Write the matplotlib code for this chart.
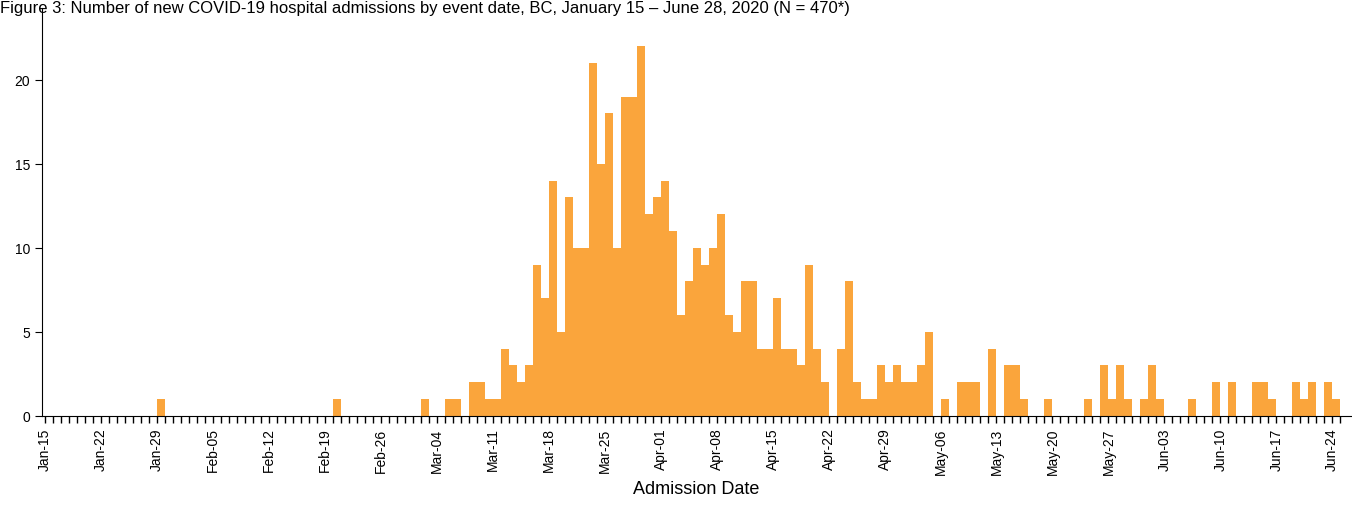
import matplotlib
matplotlib.use("Agg")
import matplotlib.pyplot as plt
import numpy as np
import pandas as pd

plt.rcParams["font.family"] = ["Liberation Sans", "DejaVu Sans"]

start_date = "2020-01-15"
end_date = "2020-06-25"
# non-zero daily admissions (date -> count); all other days are 0
counts = {
    "2020-01-29": 1, "2020-02-20": 1,
    "2020-03-02": 1, "2020-03-05": 1, "2020-03-06": 1, "2020-03-08": 2, "2020-03-09": 2,
    "2020-03-10": 1, "2020-03-11": 1, "2020-03-12": 4, "2020-03-13": 3, "2020-03-14": 2,
    "2020-03-15": 3, "2020-03-16": 9, "2020-03-17": 7, "2020-03-18": 14, "2020-03-19": 5,
    "2020-03-20": 13, "2020-03-21": 10, "2020-03-22": 10, "2020-03-23": 21, "2020-03-24": 15,
    "2020-03-25": 18, "2020-03-26": 10, "2020-03-27": 19, "2020-03-28": 19, "2020-03-29": 22,
    "2020-03-30": 12, "2020-03-31": 13, "2020-04-01": 14, "2020-04-02": 11, "2020-04-03": 6,
    "2020-04-04": 8, "2020-04-05": 10, "2020-04-06": 9, "2020-04-07": 10, "2020-04-08": 12,
    "2020-04-09": 6, "2020-04-10": 5, "2020-04-11": 8, "2020-04-12": 8, "2020-04-13": 4,
    "2020-04-14": 4, "2020-04-15": 7, "2020-04-16": 4, "2020-04-17": 4, "2020-04-18": 3,
    "2020-04-19": 9, "2020-04-20": 4, "2020-04-21": 2, "2020-04-23": 4, "2020-04-24": 8,
    "2020-04-25": 2, "2020-04-26": 1, "2020-04-27": 1, "2020-04-28": 3, "2020-04-29": 2,
    "2020-04-30": 3, "2020-05-01": 2, "2020-05-02": 2, "2020-05-03": 3, "2020-05-04": 5,
    "2020-05-06": 1, "2020-05-08": 2, "2020-05-09": 2, "2020-05-10": 2, "2020-05-12": 4,
    "2020-05-14": 3, "2020-05-15": 3, "2020-05-16": 1, "2020-05-19": 1, "2020-05-24": 1,
    "2020-05-26": 3, "2020-05-27": 1, "2020-05-28": 3, "2020-05-29": 1, "2020-05-31": 1,
    "2020-06-01": 3, "2020-06-02": 1, "2020-06-06": 1, "2020-06-09": 2, "2020-06-11": 2,
    "2020-06-14": 2, "2020-06-15": 2, "2020-06-16": 1, "2020-06-19": 2, "2020-06-20": 1,
    "2020-06-21": 2, "2020-06-23": 2, "2020-06-24": 1,
}

days = pd.date_range(start_date, end_date, freq="D")
values = np.array([counts.get(d.strftime("%Y-%m-%d"), 0) for d in days])
x = np.arange(len(days))

fig = plt.figure(figsize=(13.52, 5.10), dpi=100)
ax = fig.add_axes([0.031, 0.183, 0.968, 0.80])
ax.bar(x, values, width=1.0, align="edge", color="#FAA53C", linewidth=0)

ax.set_xlim(-0.4, len(days) + 0.3)
ax.set_ylim(0, 24.3)
ax.set_yticks([0, 5, 10, 15, 20])
major = x[::7]
ax.set_xticks(major)
ax.set_xticklabels([days[i].strftime("%b-%d") for i in major], rotation=90)
ax.set_xticks(x, minor=True)
ax.tick_params(axis="x", which="both", length=5, width=1, labelsize=10)
ax.tick_params(axis="y", length=5, labelsize=10)
for s in ["top", "right"]:
    ax.spines[s].set_visible(False)
ax.set_xlabel("Admission Date", fontsize=13)

fig.text(0.0, 0.999, "Figure 3: Number of new COVID-19 hospital admissions by event date, BC, January 15 \u2013 June 28, 2020 (N = 470*)",
         fontsize=12, va="top", ha="left")
fig.savefig("out.png")
